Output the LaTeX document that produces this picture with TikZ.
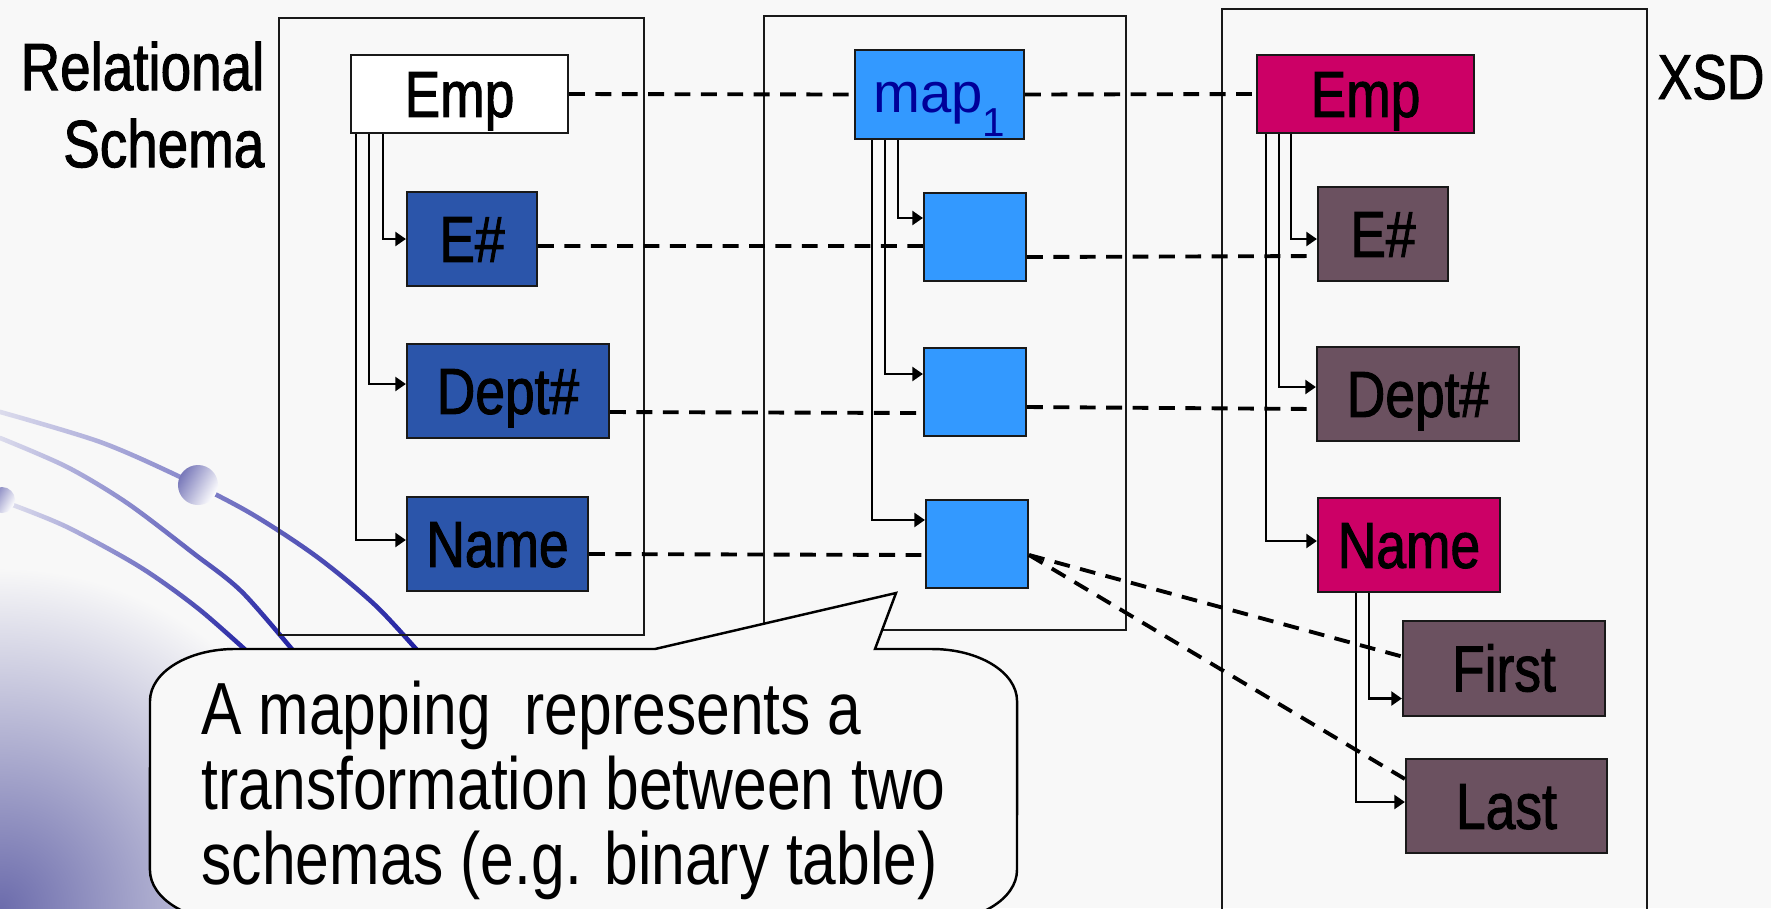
\documentclass[tikz,border=0pt]{standalone}
\usepackage{xcolor}
\usepackage{fontspec}
\usepackage{tikz}
\usetikzlibrary{arrows.meta, positioning, calc, fadings}
\setmainfont{Liberation Sans}
\newfontfamily\narrowfont[FakeStretch=0.82]{Liberation Sans}
\newfontfamily\labelfont[FakeStretch=0.82, FakeBold=1.5]{Liberation Sans}
\definecolor{mybg}{RGB}{248,248,248}
\definecolor{myblue}{RGB}{43,85,170}
\definecolor{mysky}{RGB}{51,153,255}
\definecolor{mynavy}{RGB}{0,0,153}
\definecolor{mymagenta}{RGB}{204,0,102}
\definecolor{mymauve}{RGB}{107,81,96}
\definecolor{mypurple}{RGB}{108,108,172}
\definecolor{myball}{RGB}{120,120,185}
\definecolor{myswoosh}{RGB}{26,26,160}
\definecolor{myline}{RGB}{25,25,25}
\tikzfading[name=swooshfade, left color=transparent!88, right color=transparent!0]
\tikzset{
  block/.style={rectangle, draw=myline, line width=0.6pt, inner sep=0pt,
    text height=13pt, text depth=0pt,
    font=\labelfont\fontsize{18.5}{20}\selectfont},
  relblock/.style={block, fill=myblue, minimum height=0.94cm},
  mapblock/.style={block, fill=mysky, minimum width=1.02cm, minimum height=0.88cm},
  xsdblock/.style={block, fill=mymagenta, minimum height=0.94cm},
  xsdsub/.style={block, fill=mymauve, minimum height=0.94cm},
  sidetext/.style={inner sep=0pt, font=\labelfont\fontsize{19}{21.9}\selectfont},
  frame/.style={draw=myline, line width=0.6pt},
  arrow/.style={-{Triangle[length=3pt, width=4pt]}, line width=0.6pt, color=black},
  dashline/.style={line width=1.1pt, dash pattern=on 4.5pt off 3pt},
  swoosh/.style={myswoosh, line width=1.3pt, line cap=round, path fading=swooshfade},
  bead/.style={left color=myball, right color=white, shading angle=60}
}

\begin{document}
\begin{tikzpicture}[x=0.01cm, y=-0.01cm]
  \useasboundingbox (0,0) rectangle (1771,908);
  \clip (0,0) rectangle (1771,908);
  \fill[mybg] (0,0) rectangle (1771,908);
  \shade[inner color=mypurple, outer color=mybg] (0,908) circle (3.4cm);
  \draw[swoosh] plot[smooth] coordinates {(0,412) (100,442) (180,477) (250,513) (317,557) (377,607) (430,665)};
  \draw[swoosh] plot[smooth] coordinates {(0,438) (67,467) (127,503) (193,553) (243,593) (305,665)};
  \draw[swoosh] plot[smooth] coordinates {(13,505) (67,527) (140,567) (200,610) (262,665)};
  \shade[bead] (198,485) circle (0.2cm);
  \shade[bead] (2,500) circle (0.13cm);

  \draw[frame] (279,18) rectangle (644,635);
  \draw[frame] (764,16) rectangle (1126,630);
  \draw[frame] (1222,9) rectangle (1647,960);

  \node[sidetext, anchor=north east, align=right] (relschema) at (265,41) {Relational\\Schema};
  \node[sidetext, anchor=base west, font=\labelfont\fontsize{18}{20}\selectfont] (xsd) at (1657,99) {XSD};

  \node[block, fill=white, minimum width=2.17cm, minimum height=0.78cm] (empL) at (459.5,94) {Emp};
  \node[relblock, minimum width=1.30cm] (eL) at (472,239) {E\#};
  \node[relblock, minimum width=2.02cm] (deptL) at (508,391) {Dept\#};
  \node[relblock, minimum width=1.81cm] (nameL) at (497.5,544) {Name};

  \node[block, fill=mysky, minimum width=1.69cm, minimum height=0.89cm, text height=10pt,
    text=mynavy, font=\fontsize{16}{16}\selectfont] (map1) at (939.5,94.5)
    {map\raisebox{-7pt}{\fontsize{11.5}{11.5}\selectfont 1}};
  \node[mapblock] (m1) at (975,237) {};
  \node[mapblock] (m2) at (975,392) {};
  \node[mapblock] (m3) at (977,544) {};

  \node[xsdblock, minimum width=2.17cm, minimum height=0.78cm] (empR) at (1365.5,94) {Emp};
  \node[xsdsub, minimum width=1.30cm] (eR) at (1383,234) {E\#};
  \node[xsdsub, minimum width=2.02cm] (deptR) at (1418,394) {Dept\#};
  \node[xsdblock, minimum width=1.82cm] (nameR) at (1409,545) {Name};
  \node[xsdsub, minimum width=2.02cm, minimum height=0.95cm] (first) at (1504,668.5) {First};
  \node[xsdsub, minimum width=2.01cm] (last) at (1506.5,806) {Last};

  \draw[arrow] ([xshift=0.33cm]empL.south west) |- (eL.west);
  \draw[arrow] ([xshift=0.19cm]empL.south west) |- ([yshift=0.07cm]deptL.west);
  \draw[arrow] ([xshift=0.06cm]empL.south west) |- ([yshift=0.04cm]nameL.west);
  \draw[arrow] ([xshift=0.44cm]map1.south west) |- ([yshift=0.19cm]m1.west);
  \draw[arrow] ([xshift=0.31cm]map1.south west) |- ([yshift=0.18cm]m2.west);
  \draw[arrow] ([xshift=0.18cm]map1.south west) |- ([yshift=0.24cm]m3.west);
  \draw[arrow] ([xshift=0.35cm]empR.south west) |- ([yshift=-0.05cm]eR.west);
  \draw[arrow] ([xshift=0.23cm]empR.south west) |- ([yshift=0.07cm]deptR.west);
  \draw[arrow] ([xshift=0.10cm]empR.south west) |- ([yshift=0.04cm]nameR.west);
  \draw[arrow] ([xshift=0.52cm]nameR.south west) |- ([yshift=-0.30cm]first.west);
  \draw[arrow] ([xshift=0.39cm]nameR.south west) |- ([yshift=0.04cm]last.west);

  \draw[dashline] (empL.east) -- (map1.west);
  \draw[dashline] (map1.east) -- (empR.west);
  \draw[dashline] ([yshift=-0.07cm]eL.east) -- ([yshift=-0.09cm]m1.west);
  \draw[dashline] ([yshift=-0.20cm]m1.east) -- ([yshift=-0.22cm]eR.west);
  \draw[dashline] ([yshift=-0.21cm]deptL.east) -- ([yshift=-0.21cm]m2.west);
  \draw[dashline] ([yshift=-0.15cm]m2.east) -- ([yshift=-0.15cm]deptR.west);
  \draw[dashline] ([yshift=-0.10cm]nameL.east) -- ([yshift=-0.11cm]m3.west);
  \draw[dashline] ([yshift=-0.11cm]m3.east) -- ([yshift=0.12cm]first.west);
  \draw[dashline] ([yshift=-0.11cm]m3.east) -- ([yshift=0.27cm]last.west);

  \filldraw[fill=mybg, draw=black, line width=0.7pt]
    (150,701) arc[start angle=180, end angle=90, x radius=0.85cm, y radius=0.52cm]
    -- (655,649) -- (896,593) -- (875,649) -- (932,649)
    arc[start angle=90, end angle=0, x radius=0.85cm, y radius=0.52cm]
    -- (1017,870) arc[start angle=0, end angle=-90, x radius=0.85cm, y radius=0.52cm]
    -- (235,922) arc[start angle=-90, end angle=-180, x radius=0.85cm, y radius=0.52cm]
    -- cycle;
  \node[anchor=north west, align=left, inner sep=0pt,
    font=\narrowfont\fontsize{21}{21.3}\selectfont] (note) at (201,680)
    {A mapping\ \ represents a\\transformation between two\\schemas (e.g. binary table)};
\end{tikzpicture}
\end{document}
